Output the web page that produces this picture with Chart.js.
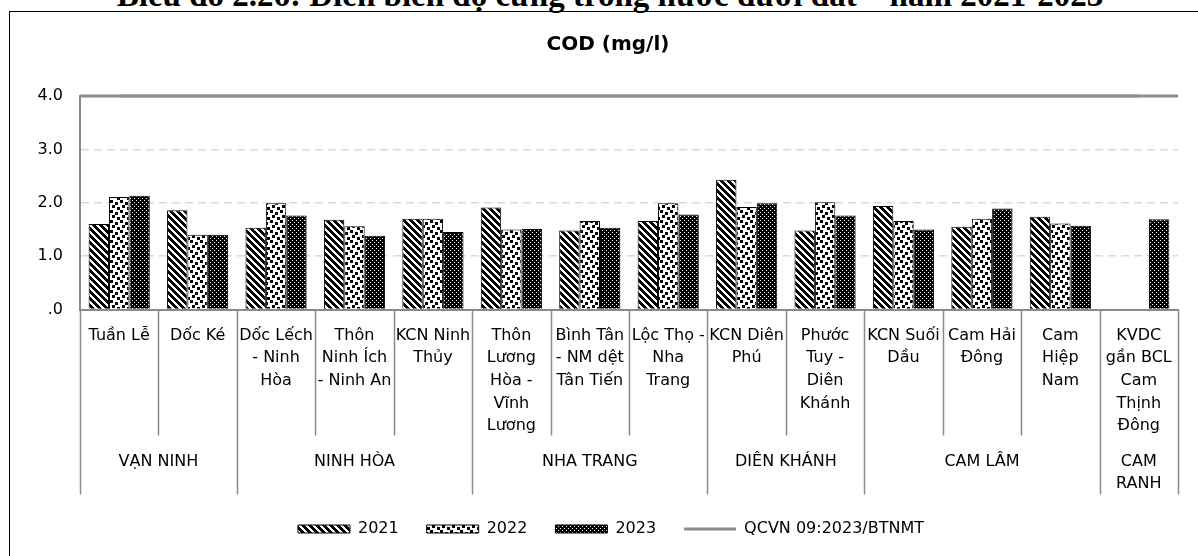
<!DOCTYPE html>
<html>
<head>
<meta charset="utf-8">
<script src="https://cdn.jsdelivr.net/npm/chart.js@4.4.1/dist/chart.umd.min.js"></script>
<style>
html, body { margin: 0; padding: 0; background: #fff; overflow: hidden; }
#page { position: relative; width: 1198px; height: 556px; overflow: hidden; }
#docTitle { position: absolute; left: 0; top: -21px; width: 1220px; text-align: center;
  font: bold 33px/33px "Liberation Serif", serif; color: #000; white-space: nowrap; }
#frame { position: absolute; left: 9px; top: 11px; width: 1300px; height: 700px;
  border-top: 1px solid #000; border-left: 1px solid #000; }
#box { position: absolute; left: 0; top: 0; width: 1198px; height: 556px; }
</style>
</head>
<body>
<div id="page">
  <div id="docTitle">Biểu đồ 2.26: Diễn biến độ cứng trong nước dưới đất – năm 2021-2023</div>
  <div id="frame"></div>
  <div id="box"><canvas id="myChart"></canvas></div>
</div>
<script>
// sites (tick labels, already split in lines)
var siteLabels = [
    ['Tuần Lễ'],
    ['Dốc Ké'],
    ['Dốc Lếch', '- Ninh', 'Hòa'],
    ['Thôn', 'Ninh Ích', '- Ninh An'],
    ['KCN Ninh', 'Thủy'],
    ['Thôn', 'Lương', 'Hòa -', 'Vĩnh', 'Lương'],
    ['Bình Tân', '- NM dệt', 'Tân Tiến'],
    ['Lộc Thọ -', 'Nha', 'Trang'],
    ['KCN Diên', 'Phú'],
    ['Phước', 'Tuy -', 'Diên', 'Khánh'],
    ['KCN Suối', 'Dầu'],
    ['Cam Hải', 'Đông'],
    ['Cam', 'Hiệp', 'Nam'],
    ['KVDC', 'gần BCL', 'Cam', 'Thịnh', 'Đông']
];

// districts and how many sites each one holds
var groupNames = [['VẠN NINH'], ['NINH HÒA'], ['NHA TRANG'], ['DIÊN KHÁNH'], ['CAM LÂM'], ['CAM', 'RANH']];
var groupSizes = [2, 3, 3, 2, 3, 1];

var cod2021 = [1.60, 1.86, 1.53, 1.68, 1.70, 1.91, 1.48, 1.66, 2.43, 1.48, 1.94, 1.55, 1.74, null];
var cod2022 = [2.11, 1.40, 1.99, 1.56, 1.70, 1.50, 1.66, 1.99, 1.92, 2.01, 1.66, 1.70, 1.61, null];
var cod2023 = [2.13, 1.40, 1.76, 1.38, 1.45, 1.51, 1.53, 1.78, 1.99, 1.76, 1.50, 1.89, 1.57, 1.69];
var qcvnLimit = [4, 4, 4, 4, 4, 4, 4, 4, 4, 4, 4, 4, 4, 4];

var yTicks = [0, 1, 2, 3, 4];

var limitColor = '#8c8c8c';

// excel-like hatch fills
function makePattern(size, bg, fg, cells) {
    var c = document.createElement('canvas');
    c.width = size; c.height = size;
    var g = c.getContext('2d');
    g.fillStyle = bg;
    g.fillRect(0, 0, size, size);
    g.fillStyle = fg;
    cells.forEach(function (p) { g.fillRect(p[0], p[1], p[2], p[3]); });
    return g.createPattern(c, 'repeat');
}

function diagCells() {
    var out = [];
    for (var y = 0; y < 7; y++) {
        for (var x = 0; x < 7; x++) {
            if (((x - y + 7) % 7) < 4) out.push([x, y, 1, 1]);
        }
    }
    return out;
}

var pat2021 = makePattern(7, '#fff', '#000', diagCells());
var pat2022 = makePattern(10, '#fff', '#000', [[0, 0, 3, 3], [5, 2, 3, 3], [2, 5, 3, 3], [7, 7, 3, 3]]);
var pat2023 = makePattern(4, '#000', '#fff', [[0, 0, 1, 1], [2, 2, 1, 1]]);

// the limit line runs over the whole plot width in the original, not centre to centre
var limitFull = {
    id: 'limitFull',
    beforeDatasetsDraw: function (chart) {
        var a = chart.chartArea;
        var py = chart.scales.y.getPixelForValue(qcvnLimit[0]);
        var ctx = chart.ctx;
        ctx.save();
        ctx.strokeStyle = limitColor;
        ctx.lineWidth = 3;
        ctx.beginPath();
        ctx.moveTo(a.left, py);
        ctx.lineTo(a.right, py);
        ctx.stroke();
        ctx.restore();
    }
};

// legend and title sit a bit right of the canvas middle in the source
var nudge = {
    id: 'nudge',
    afterLayout: function (chart) {
        chart.legend.left += 17; chart.legend.right += 17;
        chart.titleBlock.left += 14; chart.titleBlock.right += 14;
    }
};

// category table lines + district names under the axis
var groupRows = {
    id: 'groupRows',
    afterDraw: function (chart) {
        var xs = chart.scales.x;
        var ctx = chart.ctx;
        var n = siteLabels.length;
        var half = (xs.getPixelForValue(1) - xs.getPixelForValue(0)) / 2;
        var edges = [];
        for (var i = 0; i < n; i++) edges.push(xs.getPixelForValue(i) - half);
        edges.push(xs.getPixelForValue(n - 1) + half);

        var starts = [0];
        groupSizes.forEach(function (s) { starts.push(starts[starts.length - 1] + s); });

        var top = xs.top;
        ctx.save();
        ctx.strokeStyle = '#8a8a8a';
        ctx.lineWidth = 1.5;
        edges.forEach(function (ex, i) {
            var len = starts.indexOf(i) >= 0 ? 185 : 126;
            ctx.beginPath();
            ctx.moveTo(Math.round(ex) + 0.5, top);
            ctx.lineTo(Math.round(ex) + 0.5, top + len);
            ctx.stroke();
        });

        ctx.fillStyle = '#000';
        ctx.font = '16px "DejaVu Sans"';
        ctx.textAlign = 'center';
        ctx.textBaseline = 'middle';
        groupNames.forEach(function (lines, g) {
            var cx = (edges[starts[g]] + edges[starts[g + 1]]) / 2;
            lines.forEach(function (t, k) {
                ctx.fillText(t, cx, top + 152 + k * 22.5);
            });
        });
        ctx.restore();
    }
};

function DrawChart() {
    var ctx = document.getElementById('myChart').getContext('2d');

    Chart.defaults.font.family = '"DejaVu Sans"';
    Chart.defaults.font.size = 16;
    Chart.defaults.color = '#000';

    var myChart = new Chart(ctx, {
        type: 'bar',
        data: {
            labels: siteLabels,
            datasets: [{
                label: '2021',
                data: cod2021,
                backgroundColor: pat2021,
                borderColor: '#000',
                borderWidth: 1,
                order: 1
            }, {
                label: '2022',
                data: cod2022,
                backgroundColor: pat2022,
                borderColor: '#000',
                borderWidth: 1,
                order: 1
            }, {
                label: '2023',
                data: cod2023,
                backgroundColor: pat2023,
                borderColor: '#000',
                borderWidth: 1,
                order: 1
            }, {
                type: 'line',
                label: 'QCVN 09:2023/BTNMT',
                data: qcvnLimit,
                borderColor: limitColor,
                backgroundColor: limitColor,
                borderWidth: 3,
                pointRadius: 0,
                clip: false,
                order: 0
            }]
        },
        options: {
            responsive: true,
            maintainAspectRatio: false,
            animation: false,
            devicePixelRatio: 1,
            layout: { padding: { left: 10, right: 20, top: 13, bottom: 9 } },
            datasets: {
                bar: { categoryPercentage: 0.78, barPercentage: 1 }
            },
            scales: {
                x: {
                    type: 'category',
                    grid: { display: false },
                    border: { display: true, color: '#8a8a8a', width: 2 },
                    ticks: {
                        autoSkip: false,
                        maxRotation: 0,
                        padding: 7,
                        font: { size: 16, lineHeight: 1.41 }
                    },
                    afterFit: function (s) { s.height = 183.5; }
                },
                y: {
                    min: yTicks[0],
                    max: yTicks[yTicks.length - 1],
                    afterBuildTicks: function (s) {
                        s.ticks = yTicks.map(function (v) { return { value: v }; });
                    },
                    grid: {
                        drawTicks: false,
                        lineWidth: 1.5,
                        color: function (c) {
                            var v = c.tick ? c.tick.value : 0;
                            return (v > 0 && v < 4) ? '#d9d9d9' : 'rgba(0,0,0,0)';
                        }
                    },
                    border: { display: true, color: '#8a8a8a', width: 2, dash: [8, 5] },
                    ticks: {
                        padding: 17,
                        callback: function (v) { return v === 0 ? '.0' : v.toFixed(1); }
                    },
                    afterFit: function (s) { s.width = 70; }
                }
            },
            plugins: {
                title: {
                    display: true,
                    text: 'COD (mg/l)',
                    color: '#000',
                    font: { size: 20, weight: 'bold' },
                    padding: { top: 20, bottom: 39 }
                },
                legend: {
                    position: 'bottom',
                    labels: {
                        usePointStyle: true,
                        pointStyleWidth: 52,
                        boxHeight: 8,
                        padding: 28,
                        font: { size: 16 },
                        generateLabels: function (chart) {
                            var items = Chart.defaults.plugins.legend.labels.generateLabels(chart);
                            items.sort(function (a, b) { return a.datasetIndex - b.datasetIndex; });
                            items.forEach(function (it) {
                                var isLine = chart.data.datasets[it.datasetIndex].type === 'line';
                                it.pointStyle = isLine ? 'line' : 'rect';
                            });
                            return items;
                        }
                    }
                },
                tooltip: { enabled: false }
            }
        },
        plugins: [limitFull, nudge, groupRows]
    });
}

DrawChart();
</script>
</body>
</html>
